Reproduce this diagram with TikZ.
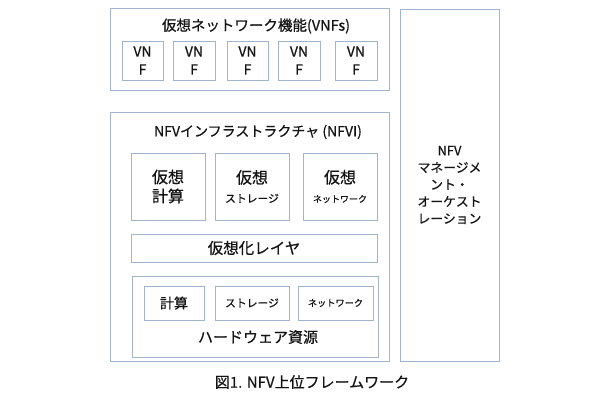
\documentclass[tikz,border=0pt]{standalone}
\usepackage{fontspec}
\setmainfont{Noto Sans CJK JP}[FakeBold=0.6]
\usetikzlibrary{shadows}
\definecolor{edge}{RGB}{160,180,204}
\definecolor{ink}{RGB}{20,20,20}
\tikzset{
  box/.style={draw=edge, line width=0.9pt, fill=white, inner sep=0pt, text=ink,
    align=center, drop shadow={shadow xshift=0.8pt, shadow yshift=-0.8pt, fill=black!30, opacity=0.35}},
  lbl/.style={inner sep=0pt, text=ink, align=center},
}
\begin{document}
\begin{tikzpicture}[x=1pt,y=-1pt]
\useasboundingbox (0,0) rectangle (610,400);
% VNFs
\node[box, minimum width=279pt, minimum height=82pt] (vnfs) at (249.5,49) {};
\node[lbl, font=\fontsize{14.5}{17}\selectfont] (vnfst) at (256,26) {仮想ネットワーク機能(VNFs)};
\foreach \i/\x/\w in {1/142.5/41, 2/194/42, 3/247.5/41, 4/299/42, 5/356/42}{
  \node[box, minimum width=\w pt, minimum height=39pt, font=\fontsize{14}{18}\selectfont] (vnf\i) at (\x,60.5) {VN\\F};
}
% NFVI
\node[box, minimum width=279pt, minimum height=249pt] (nfvi) at (249.5,236.5) {};
\node[lbl, font=\fontsize{14}{17}\selectfont] (nfvit) at (258,132) {NFVインフラストラクチャ (NFVI)};
\node[box, minimum width=74pt, minimum height=67pt, font=\fontsize{16}{19}\selectfont] (v1) at (168,186.5) {仮想\\計算};
\node[box, minimum width=74pt, minimum height=67pt, font=\fontsize{16}{19}\selectfont] (v2) at (252,186.5) {仮想\\{\fontsize{10.8}{13}\selectfont ストレージ}};
\node[box, minimum width=74pt, minimum height=67pt, font=\fontsize{16}{19}\selectfont] (v3) at (340,186.5) {仮想\\{\fontsize{9}{11}\selectfont ネットワーク}};
\node[box, minimum width=246pt, minimum height=28pt, font=\fontsize{15.5}{18}\selectfont] (vl) at (254,248) {仮想化レイヤ};
\node[box, minimum width=246pt, minimum height=81pt] (hw) at (255,316.5) {};
\node[box, minimum width=60pt, minimum height=34pt, font=\fontsize{14}{17}\selectfont] (h1) at (174,303) {計算};
\node[box, minimum width=74pt, minimum height=34pt, font=\fontsize{10.8}{13}\selectfont] (h2) at (252,303) {ストレージ};
\node[box, minimum width=75pt, minimum height=34pt, font=\fontsize{9.2}{11}\selectfont] (h3) at (335.5,303) {ネットワーク};
\node[lbl, font=\fontsize{15}{18}\selectfont] (hwt) at (258,337) {ハードウェア資源};
% MANO
\node[box, minimum width=99pt, minimum height=352pt, font=\fontsize{12.8}{17}\selectfont] (mano) at (449.5,185) {NFV\\マネージメ\\ント・\\オーケスト\\レーション};
% caption
\node[lbl, font=\fontsize{15}{18}\selectfont] (cap) at (312,382) {図1. NFV上位フレームワーク};
\end{tikzpicture}
\end{document}
